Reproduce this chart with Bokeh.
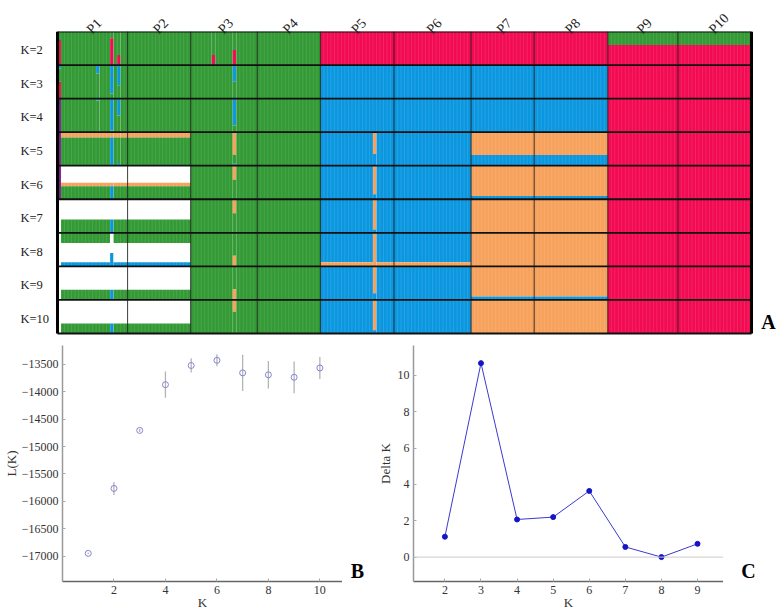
import numpy as np
from bokeh.plotting import figure
from bokeh.models import Range1d, FixedTicker, Span, LinearAxis
from bokeh.layouts import column, row
from bokeh.embed import file_html
from bokeh.resources import INLINE
from bokeh.core.properties import value

FONT = "Liberation Serif"

# ---------------- data ----------------
populations = ["P1", "P2", "P3", "P4", "P5", "P6", "P7", "P8", "P9", "P10"]
pop_sizes = [20, 18, 19, 18, 21, 22, 18, 21, 20, 21]
k_rows = [2, 3, 4, 5, 6, 7, 8, 9, 10]
row_labels = ["K=2", "K=3", "K=4", "K=5", "K=6", "K=7", "K=8", "K=9", "K=10"]

cluster_colors = {"G": "#339a35", "R": "#f20a52", "B": "#0b97e0",
                  "O": "#f7a25c", "W": "#ffffff", "V": "#7a1e8e"}

# population memberships per K (cluster, proportion), listed top to bottom
G = [("G", 1.0)]
R = [("R", 1.0)]
B = [("B", 1.0)]
O = [("O", 1.0)]
mem_k2 = [G] * 4 + [R] * 4 + [[("G", 0.40), ("R", 0.60)]] * 2
mem_k3 = [G] * 4 + [B] * 4 + [R] * 2
mem_k4 = [G] * 4 + [B] * 4 + [R] * 2
mem_k5 = [[("O", 0.16), ("G", 0.84)]] * 2 + [G] * 2 + [B] * 2 + [[("O", 0.68), ("B", 0.32)]] * 2 + [R] * 2
mem_k6 = [[("W", 0.51), ("O", 0.10), ("G", 0.39)]] * 2 + [G] * 2 + [B] * 2 + [[("O", 0.90), ("B", 0.10)]] * 2 + [R] * 2
mem_k7 = [[("W", 0.60), ("G", 0.40)]] * 2 + [G] * 2 + [B] * 2 + [O] * 2 + [R] * 2
mem_k8 = [[("G", 0.30), ("W", 0.58), ("B", 0.12)]] * 2 + [G] * 2 + [[("B", 0.88), ("O", 0.12)]] * 2 + [O] * 2 + [R] * 2
mem_k9 = [[("W", 0.70), ("G", 0.30)]] * 2 + [G] * 2 + [B] * 2 + [[("O", 0.90), ("B", 0.10)]] * 2 + [R] * 2
mem_k10 = [[("W", 0.70), ("G", 0.30)]] * 2 + [G] * 2 + [B] * 2 + [O] * 2 + [R] * 2

# individual exceptions: (K, population index, individual index, membership)
outliers = [
    (2, 0, 0, [("G", 0.25), ("R", 0.75)]),
    (3, 0, 0, [("B", 0.10), ("G", 0.40), ("R", 0.50)]),
    (4, 0, 0, [("V", 1.0)]),
    (5, 0, 0, [("V", 1.0)]),
    (6, 0, 0, [("V", 1.0)]),
    (7, 0, 0, [("W", 1.0)]),
    (8, 0, 0, [("W", 1.0)]),
    (9, 0, 0, [("W", 1.0)]),
    (10, 0, 0, [("W", 1.0)]),
    (3, 0, 11, [("B", 0.25), ("G", 0.75)]),
    (4, 0, 11, [("B", 0.06), ("G", 0.94)]),
    (2, 0, 15, [("G", 0.20), ("R", 0.80)]),
    (3, 0, 15, [("B", 0.85), ("G", 0.15)]),
    (4, 0, 15, [("B", 0.95), ("G", 0.05)]),
    (5, 0, 15, [("O", 0.16), ("B", 0.84)]),
    (6, 0, 15, [("W", 0.51), ("O", 0.10), ("B", 0.39)]),
    (7, 0, 15, [("W", 0.60), ("B", 0.40)]),
    (8, 0, 15, [("W", 0.60), ("B", 0.40)]),
    (9, 0, 15, [("W", 0.70), ("B", 0.30)]),
    (10, 0, 15, [("W", 0.70), ("B", 0.30)]),
    (2, 0, 17, [("G", 0.70), ("R", 0.30)]),
    (3, 0, 17, [("B", 0.60), ("G", 0.40)]),
    (4, 0, 17, [("B", 0.50), ("G", 0.50)]),
    (5, 0, 17, [("O", 0.16), ("G", 0.76), ("B", 0.08)]),
    (2, 2, 6, [("G", 0.70), ("R", 0.30)]),
    (2, 2, 12, [("G", 0.55), ("R", 0.45)]),
    (3, 2, 12, [("B", 0.50), ("G", 0.50)]),
    (4, 2, 12, [("B", 0.80), ("G", 0.20)]),
    (5, 2, 12, [("O", 0.67), ("G", 0.27), ("B", 0.06)]),
    (6, 2, 12, [("O", 0.42), ("G", 0.58)]),
    (7, 2, 12, [("O", 0.42), ("G", 0.58)]),
    (8, 2, 12, [("G", 0.68), ("O", 0.32)]),
    (9, 2, 12, [("G", 0.68), ("O", 0.32)]),
    (10, 2, 12, [("O", 0.35), ("G", 0.65)]),
    (5, 4, 15, [("O", 0.65), ("B", 0.35)]),
    (6, 4, 15, [("O", 0.85), ("B", 0.15)]),
    (7, 4, 15, [("O", 0.90), ("B", 0.10)]),
    (8, 4, 15, [("O", 1.0)]),
    (9, 4, 15, [("O", 0.80), ("B", 0.20)]),
    (10, 4, 15, [("O", 0.90), ("B", 0.10)]),
]

# Panel B: mean L(K) +- sd
lk_k = [1, 2, 3, 4, 5, 6, 7, 8, 9, 10]
lk_mean = [-16950, -15765, -14705, -13870, -13520, -13425, -13655, -13690, -13735, -13565]
lk_sd = [15, 120, 30, 240, 130, 110, 330, 250, 290, 200]

# Panel C: Delta K
dk_k = [2, 3, 4, 5, 6, 7, 8, 9]
dk_val = [1.12, 10.67, 2.07, 2.20, 3.64, 0.56, 0.0, 0.73]

# ---------------- panel A ----------------
memberships = [mem_k2, mem_k3, mem_k4, mem_k5, mem_k6, mem_k7, mem_k8, mem_k9, mem_k10]
override = {(k, p, i): m for k, p, i, m in outliers}
starts = np.concatenate([[0], np.cumsum(pop_sizes)])
total = int(starts[-1])
nrow = len(k_rows)
row_pos = [nrow - 1 - r for r in range(nrow)]   # K=2 at the top

pA = figure(width=776, height=345, output_backend="svg", toolbar_location=None,
            x_range=Range1d(-16.26, 205.13), y_range=Range1d(-0.858, 8.5),
            min_border_left=0, min_border_right=0, min_border_top=31, min_border_bottom=0)
pA.xaxis.visible = False
pA.yaxis.visible = False
pA.grid.visible = False
pA.outline_line_color = None

left, right, top, bottom, colors = [], [], [], [], []
for r, k in enumerate(k_rows):
    for p, size in enumerate(pop_sizes):
        base = memberships[r][p]
        i = 0
        while i < size:
            m = override.get((k, p, i), base)
            j = i + 1
            while j < size and override.get((k, p, j), base) == m:
                j += 1
            acc = row_pos[r] + 0.5
            for c, q in m:
                left.append(starts[p] + i)
                right.append(starts[p] + j)
                top.append(acc)
                bottom.append(acc - q)
                colors.append(cluster_colors[c])
                acc -= q
            i = j
pA.quad(left=left, right=right, top=top, bottom=bottom, fill_color=colors, line_color=None)

# faint individual separators
start_set = set(starts.tolist())
ind_x = [x for x in range(1, total) if x not in start_set]
pA.segment(x0=ind_x, y0=[-0.5] * len(ind_x), x1=ind_x, y1=[nrow - 0.5] * len(ind_x),
           line_color="white", line_alpha=0.14, line_width=0.8)
# population separators
inner = starts[1:-1].tolist()
pA.segment(x0=inner, y0=[-0.5] * len(inner), x1=inner, y1=[nrow - 0.5] * len(inner),
           line_color="#1a1a1a", line_alpha=0.85, line_width=1)
# row separators
ry = [r - 0.5 for r in range(nrow + 1)]
pA.segment(x0=[0] * len(ry), y0=ry, x1=[total] * len(ry), y1=ry, line_color="#111111", line_width=1.8)
# outer thick borders
pA.segment(x0=[0, total], y0=[-0.5, -0.5], x1=[0, total], y1=[nrow - 0.5] * 2,
           line_color="black", line_width=3)

# population names on a top axis, slanted
label_pos = [round(float(c) - 1.0, 3) for c in (starts[:-1] + np.array(pop_sizes) / 2.0)]
top_axis = LinearAxis(ticker=FixedTicker(ticks=label_pos),
                      major_label_overrides={c: name for c, name in zip(label_pos, populations)})
top_axis.major_label_orientation = 0.8
top_axis.axis_line_color = None
top_axis.major_tick_line_color = None
top_axis.minor_tick_line_color = None
top_axis.major_tick_in = 0
top_axis.major_tick_out = 0
top_axis.major_label_standoff = 0
top_axis.major_label_text_font = FONT
top_axis.major_label_text_font_size = "14px"
top_axis.major_label_text_line_height = 1.0
top_axis.major_label_text_color = "#222222"
pA.add_layout(top_axis, "above")

pA.text(x=[-10.56] * nrow, y=[y - 0.06 for y in row_pos], text=row_labels,
        text_font=value(FONT), text_font_size="12.5px", text_color="#222222",
        text_align="left", text_baseline="middle")
pA.text(x=[202.85], y=[-0.5], text=["A"], text_font=value(FONT), text_font_size="20px",
        text_font_style="bold", text_color="black", text_align="center", text_baseline="bottom")


def style_axes(p):
    p.grid.visible = False
    p.outline_line_color = None
    for ax in list(p.xaxis) + list(p.yaxis):
        ax.major_label_text_font = FONT
        ax.major_label_text_font_size = "12px"
        ax.major_label_text_color = "#333333"
        ax.axis_label_text_font = FONT
        ax.axis_label_text_font_size = "13px"
        ax.axis_label_text_font_style = "normal"
        ax.axis_label_text_color = "#333333"
        ax.major_tick_in = 3
        ax.major_tick_out = 0
        ax.major_tick_line_color = "#aaaaaa"
        ax.minor_tick_line_color = None
        ax.axis_line_width = 1.5
    p.xaxis.axis_line_color = "#666666"
    p.yaxis.axis_line_color = "#999999"
    p.xaxis.major_label_standoff = 4
    p.xaxis.axis_label_standoff = -2
    p.yaxis.major_label_standoff = 4
    p.yaxis.axis_label_standoff = 0


def letter_panel(width, letter, x_frac):
    f = figure(width=width, height=267, output_backend="svg", toolbar_location=None,
               x_range=Range1d(0, 1), y_range=Range1d(0, 1),
               min_border_left=0, min_border_right=0, min_border_top=0, min_border_bottom=30)
    f.xaxis.visible = False
    f.yaxis.visible = False
    f.grid.visible = False
    f.outline_line_color = None
    f.text(x=[x_frac], y=[0], text=[letter], text_font=value(FONT),
           text_font_size="20px", text_font_style="bold", text_color="black",
           text_align="center", text_baseline="bottom")
    return f


# ---------------- panel B ----------------
pB = figure(width=342, height=267, output_backend="svg", toolbar_location=None,
            x_range=Range1d(0.0, 10.88), y_range=Range1d(-17464, -13155),
            min_border_left=62, min_border_right=0, min_border_top=0, min_border_bottom=30)
style_axes(pB)
pB.xaxis.ticker = FixedTicker(ticks=[2, 4, 6, 8, 10])
pB.yaxis.ticker = FixedTicker(ticks=list(range(-17000, -13499, 500)))
pB.xaxis.axis_label = "K"
pB.yaxis.axis_label = "L(K)"
lo = [m - s for m, s in zip(lk_mean, lk_sd)]
hi = [m + s for m, s in zip(lk_mean, lk_sd)]
pB.segment(x0=lk_k, y0=lo, x1=lk_k, y1=hi, line_color="#b4b4b4", line_width=1.3)
pB.scatter(lk_k, lk_mean, marker="circle", size=6, fill_color=None,
           line_color="#8585d6", line_width=1)
pBL = letter_panel(32, "B", 0.47)

# ---------------- panel C ----------------
pC = figure(width=349, height=267, output_backend="svg", toolbar_location=None,
            x_range=Range1d(1.13, 9.72), y_range=Range1d(-1.342, 11.64),
            min_border_left=36, min_border_right=0, min_border_top=0, min_border_bottom=30)
style_axes(pC)
pC.xaxis.ticker = FixedTicker(ticks=dk_k)
pC.yaxis.ticker = FixedTicker(ticks=[0, 2, 4, 6, 8, 10])
pC.yaxis.axis_label_standoff = 2
pC.xaxis.axis_label = "K"
pC.yaxis.axis_label = "Delta K"
pC.add_layout(Span(location=0, dimension="width", line_color="#cccccc", line_width=1))
pC.line(dk_k, dk_val, line_color="#3a3ad0", line_width=1)
pC.scatter(dk_k, dk_val, marker="circle", size=5, fill_color="#1515c8", line_color="#1515c8")
pCL = letter_panel(53, "C", 0.47)

layout = column(pA, row(pB, pBL, pC, pCL))
open("out.html", "w").write(file_html(layout, INLINE))
